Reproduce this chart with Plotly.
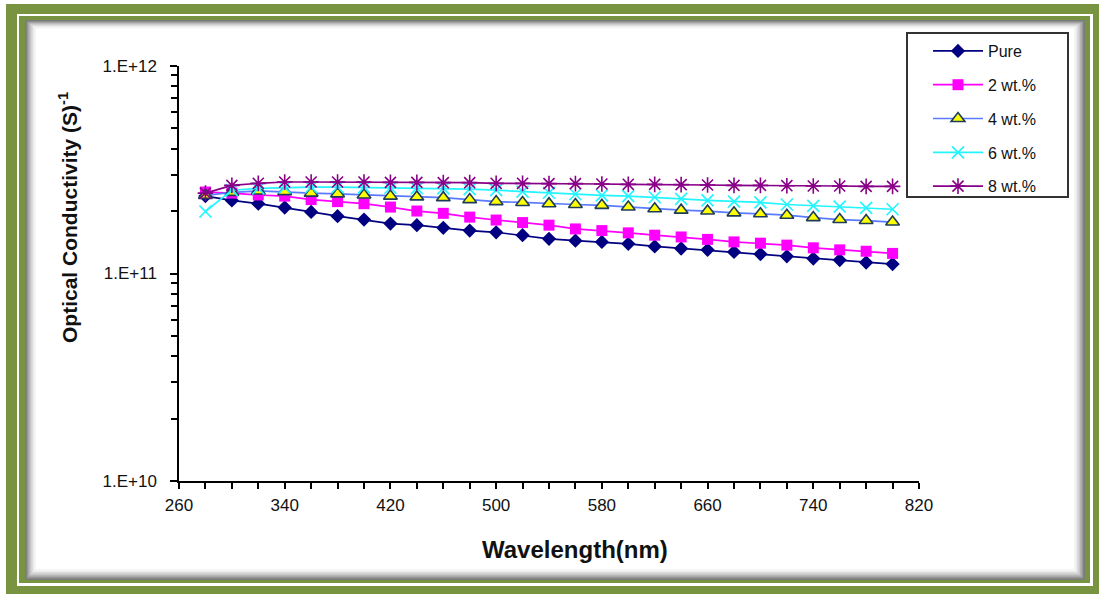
import plotly.graph_objects as go

wavelength = [280, 300, 320, 340, 360, 380, 400, 420, 440, 460, 480, 500, 520, 540,
              560, 580, 600, 620, 640, 660, 680, 700, 720, 740, 760, 780, 800]

pure = [2.36e11, 2.25e11, 2.17e11, 2.08e11, 1.98e11, 1.89e11, 1.82e11, 1.74e11, 1.71e11,
        1.66e11, 1.61e11, 1.58e11, 1.53e11, 1.47e11, 1.44e11, 1.42e11, 1.39e11, 1.35e11,
        1.32e11, 1.30e11, 1.27e11, 1.24e11, 1.21e11, 1.18e11, 1.16e11, 1.13e11, 1.11e11]

wt2 = [2.47e11, 2.44e11, 2.39e11, 2.36e11, 2.27e11, 2.22e11, 2.17e11, 2.09e11, 2.00e11,
       1.95e11, 1.87e11, 1.81e11, 1.76e11, 1.71e11, 1.64e11, 1.61e11, 1.57e11, 1.53e11,
       1.50e11, 1.46e11, 1.42e11, 1.40e11, 1.37e11, 1.33e11, 1.30e11, 1.28e11, 1.25e11]

wt4 = [2.38e11, 2.46e11, 2.50e11, 2.48e11, 2.44e11, 2.42e11, 2.39e11, 2.36e11, 2.34e11,
       2.32e11, 2.27e11, 2.22e11, 2.20e11, 2.17e11, 2.15e11, 2.13e11, 2.09e11, 2.05e11,
       2.02e11, 2.00e11, 1.96e11, 1.94e11, 1.91e11, 1.86e11, 1.82e11, 1.80e11, 1.77e11]

wt6 = [1.99e11, 2.52e11, 2.57e11, 2.60e11, 2.61e11, 2.61e11, 2.60e11, 2.59e11, 2.58e11,
       2.57e11, 2.55e11, 2.52e11, 2.48e11, 2.45e11, 2.41e11, 2.38e11, 2.36e11, 2.33e11,
       2.29e11, 2.25e11, 2.22e11, 2.20e11, 2.15e11, 2.12e11, 2.10e11, 2.07e11, 2.04e11]

wt8 = [2.44e11, 2.66e11, 2.72e11, 2.76e11, 2.76e11, 2.76e11, 2.76e11, 2.75e11, 2.75e11,
       2.74e11, 2.74e11, 2.72e11, 2.72e11, 2.71e11, 2.71e11, 2.70e11, 2.69e11, 2.69e11,
       2.68e11, 2.67e11, 2.66e11, 2.66e11, 2.65e11, 2.64e11, 2.64e11, 2.63e11, 2.63e11]

series_names = ["Pure", "2 wt.%", "4 wt.%", "6 wt.%", "8 wt.%"]

y_tick_vals = [1e10, 1e11, 1e12]
y_tick_text = ["1.E+10", "1.E+11", "1.E+12"]

# ---- layout geometry (pixels) ----
W, H = 1099, 594
ML, MR, MT, MB = 179, 180, 66, 113
PW, PH = W - ML - MR, H - MT - MB


def px(x):
    return (x - ML) / PW


def py(y):
    return (H - MB - y) / PH


FONT = "Liberation Sans, Arial, sans-serif"

fig = go.Figure()

styles = [
    dict(line=dict(color="#000080", width=1.7),
         marker=dict(symbol="diamond", size=11, color="#000080")),
    dict(line=dict(color="#FF00FF", width=1.7),
         marker=dict(symbol="square", size=11, color="#FF00FF")),
    dict(line=dict(color="#5A7BFF", width=1.7),
         marker=dict(symbol="triangle-up", size=12, color="#FFFF00",
                     line=dict(color="#1E3C5A", width=1.6))),
    dict(line=dict(color="#22F5FF", width=1.7),
         marker=dict(symbol="x-thin-open", size=12, color="#22F5FF",
                     line=dict(color="#22F5FF", width=1.7))),
    dict(line=dict(color="#880088", width=1.7),
         marker=dict(symbol="asterisk-open", size=13, color="#880088",
                     line=dict(color="#880088", width=1.6))),
]

for i, (name, vals) in enumerate(zip(series_names, [pure, wt2, wt4, wt6, wt8])):
    fig.add_trace(go.Scatter(x=wavelength, y=vals, name=name, mode="lines+markers",
                             legendgroup=f"g{i}", **styles[i]))

shapes = []


def rect(x0, y0, x1, y1, fill, line_color=None, width=0):
    shapes.append(dict(type="rect", xref="paper", yref="paper",
                       x0=px(x0), x1=px(x1), y0=py(y1), y1=py(y0),
                       fillcolor=fill, layer="below",
                       line=dict(color=line_color or fill, width=width)))


GREEN = "#789440"
rect(6, 4, 1099, 594, GREEN)
rect(17, 14, 1093, 586, "#FFFFFF")
rect(19, 16, 1090, 583, GREEN)
shadow = ["#7a7a7a", "#959595", "#b0b0b0", "#c8c8c8", "#dcdcdc", "#ececec", "#f7f7f7", "#ffffff"]
for k, c in enumerate(shadow):
    rect(25 + 1.6 * k, 20 + 1.2 * k, 1085 - 1.6 * k, 580 - 1.6 * k, c)

# legend box
shapes.append(dict(type="rect", xref="paper", yref="paper",
                   x0=px(907), x1=px(1068), y0=py(197), y1=py(33),
                   fillcolor="rgba(0,0,0,0)", layer="above",
                   line=dict(color="#333333", width=2)))

fig.update_layout(
    width=W, height=H, autosize=False,
    margin=dict(l=ML, r=MR, t=MT, b=MB),
    paper_bgcolor="white",
    plot_bgcolor="rgba(0,0,0,0)",
    font=dict(family=FONT, color="#111111", size=16),
    shapes=shapes,
    showlegend=True,
    legend=dict(x=px(928), y=py(34), xanchor="left", yanchor="top",
                bgcolor="rgba(0,0,0,0)", borderwidth=0,
                font=dict(family=FONT, size=16, color="#111111"),
                itemwidth=50, tracegroupgap=10, traceorder="grouped"),
    xaxis=dict(range=[260, 820], tick0=260, dtick=80, showgrid=False, zeroline=False,
               showline=True, linecolor="#000000", linewidth=1.5,
               ticks="outside", ticklen=6, tickwidth=1.5, tickcolor="#000000",
               ticklabelstandoff=2,
               tickfont=dict(family=FONT, size=17, color="#111111"),
               minor=dict(dtick=20, ticks="outside", ticklen=6, tickwidth=1.5,
                          tickcolor="#000000", showgrid=False)),
    yaxis=dict(type="log", range=[10, 12], showgrid=False, zeroline=False,
               showline=True, linecolor="#000000", linewidth=1.5,
               tickvals=y_tick_vals, ticktext=y_tick_text,
               ticks="outside", ticklen=7, tickwidth=1.5, tickcolor="#000000",
               ticklabelstandoff=10,
               tickfont=dict(family=FONT, size=17, color="#111111"),
               minor=dict(tickvals=[m * 10 ** e for e in (10, 11) for m in range(2, 10)],
                          ticks="outside", ticklen=6, tickwidth=1.5,
                          tickcolor="#000000", showgrid=False)),
    annotations=[
        dict(text="<b>Wavelength(nm)</b>", xref="paper", yref="paper",
             x=px(575), y=py(549), xanchor="center", yanchor="middle",
             showarrow=False, font=dict(family=FONT, size=24, color="#111111")),
        dict(text="<b>Optical Conductivity (S)<sup>-1</sup></b>", xref="paper", yref="paper",
             x=px(68), y=py(218), xanchor="center", yanchor="middle", textangle=-90,
             showarrow=False, font=dict(family=FONT, size=21, color="#111111")),
    ],
)

fig.write_html("out.html")
